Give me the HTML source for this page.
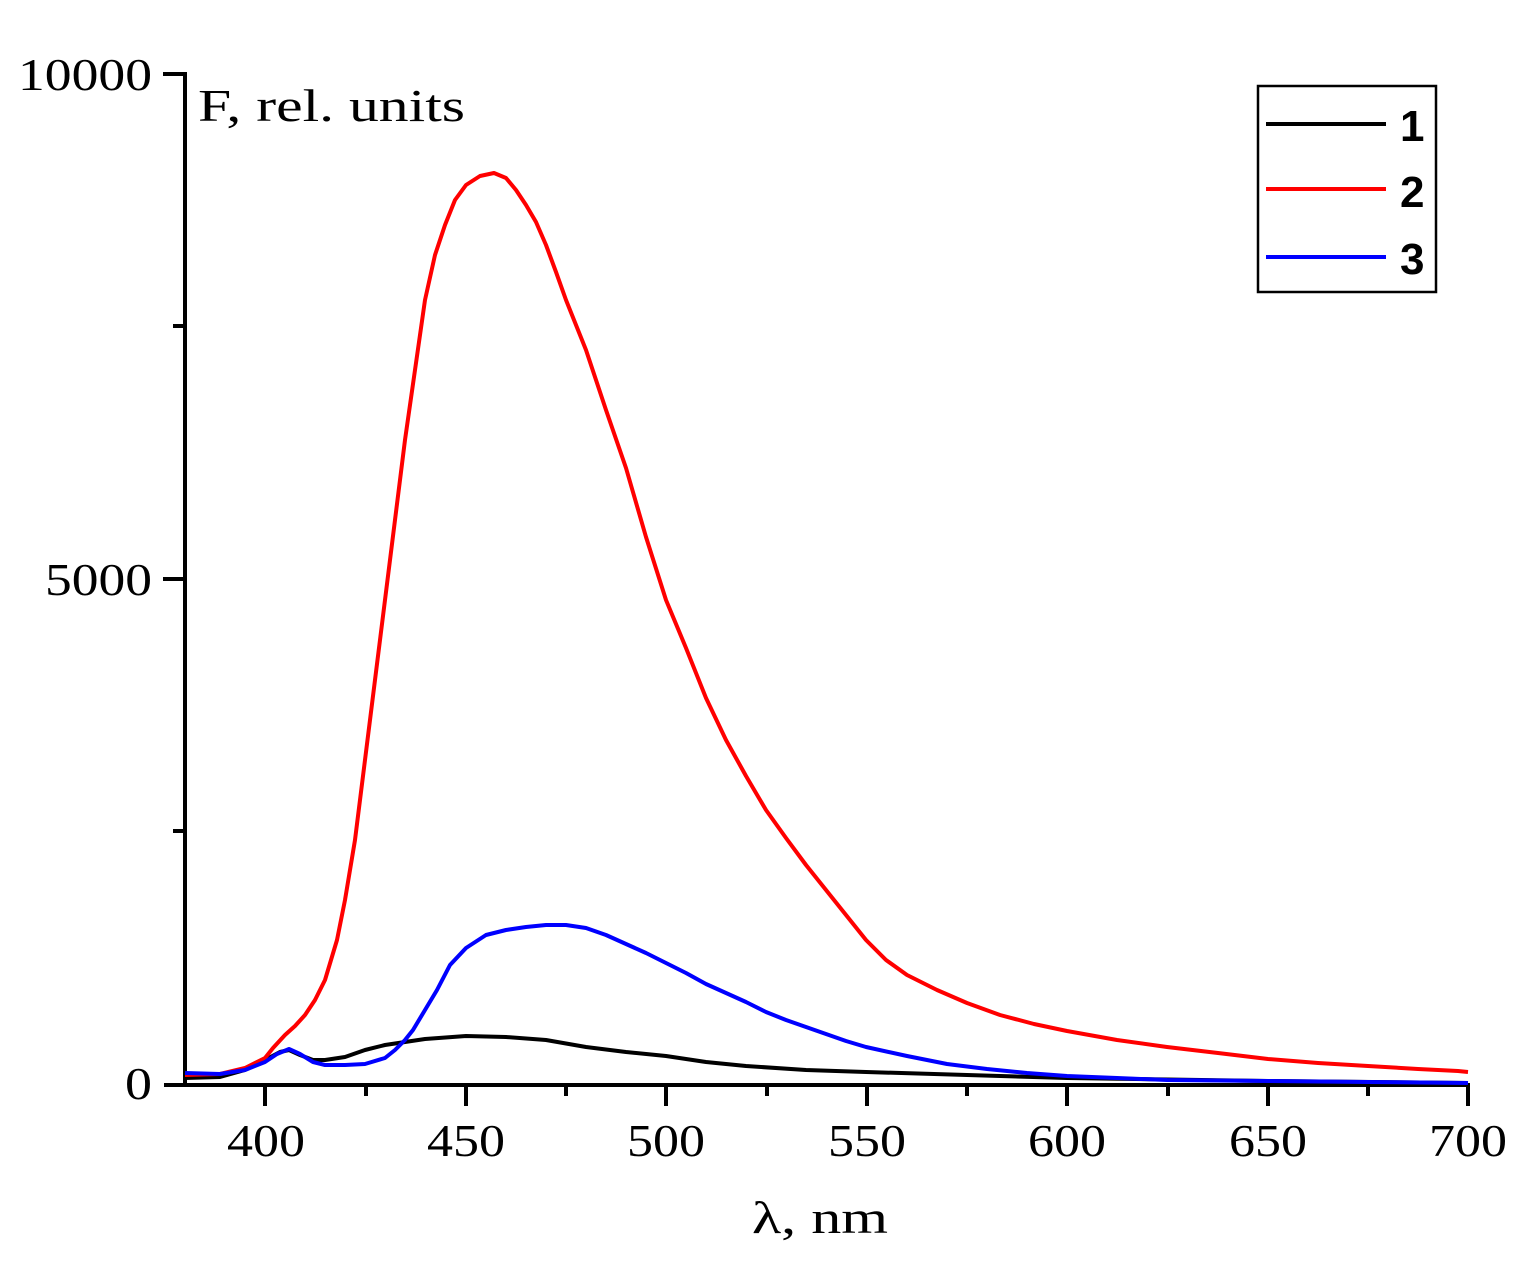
<!DOCTYPE html>
<html><head><style>
html,body{margin:0;padding:0;background:#fff;}
svg{display:block;}
.t{font-family:"Liberation Serif",serif;font-size:46px;fill:#000;}
.l{font-family:"Liberation Sans",sans-serif;font-size:44px;font-weight:bold;fill:#000;}
</style></head><body>
<svg width="1534" height="1283" viewBox="0 0 1534 1283" xmlns="http://www.w3.org/2000/svg">
<g stroke="#000" stroke-width="4" fill="none">
<line x1="185" y1="72" x2="185" y2="1086"/>
<line x1="164" y1="1085" x2="1470" y2="1085"/>
<line x1="163" y1="74" x2="187" y2="74"/>
<line x1="163" y1="579" x2="187" y2="579"/>
<line x1="173" y1="326" x2="187" y2="326"/>
<line x1="173" y1="831" x2="187" y2="831"/>
<line x1="265" y1="1085" x2="265" y2="1106"/>
<line x1="466" y1="1085" x2="466" y2="1106"/>
<line x1="666" y1="1085" x2="666" y2="1106"/>
<line x1="867" y1="1085" x2="867" y2="1106"/>
<line x1="1067" y1="1085" x2="1067" y2="1106"/>
<line x1="1268" y1="1085" x2="1268" y2="1106"/>
<line x1="1468" y1="1085" x2="1468" y2="1106"/>
<line x1="366" y1="1085" x2="366" y2="1096"/>
<line x1="566" y1="1085" x2="566" y2="1096"/>
<line x1="767" y1="1085" x2="767" y2="1096"/>
<line x1="967" y1="1085" x2="967" y2="1096"/>
<line x1="1168" y1="1085" x2="1168" y2="1096"/>
<line x1="1368" y1="1085" x2="1368" y2="1096"/>
</g>
<text class="t" x="18" y="90" textLength="134" lengthAdjust="spacingAndGlyphs">10000</text>
<text class="t" x="45" y="595" textLength="107" lengthAdjust="spacingAndGlyphs">5000</text>
<text class="t" x="125" y="1099" textLength="27" lengthAdjust="spacingAndGlyphs">0</text>
<text class="t" x="227" y="1156" textLength="78" lengthAdjust="spacingAndGlyphs">400</text>
<text class="t" x="427" y="1156" textLength="78" lengthAdjust="spacingAndGlyphs">450</text>
<text class="t" x="627" y="1156" textLength="78" lengthAdjust="spacingAndGlyphs">500</text>
<text class="t" x="828" y="1156" textLength="78" lengthAdjust="spacingAndGlyphs">550</text>
<text class="t" x="1028" y="1156" textLength="78" lengthAdjust="spacingAndGlyphs">600</text>
<text class="t" x="1229" y="1156" textLength="78" lengthAdjust="spacingAndGlyphs">650</text>
<text class="t" x="1429" y="1156" textLength="78" lengthAdjust="spacingAndGlyphs">700</text>
<text class="t" x="752" y="1233" textLength="136" lengthAdjust="spacingAndGlyphs">λ, nm</text>
<text class="t" x="198" y="121" textLength="267" lengthAdjust="spacingAndGlyphs">F, rel. units</text>
<g fill="none" stroke-width="4" stroke-linejoin="round">
<polyline stroke="#000" points="185,1078 220,1077 245,1070 265,1060 280,1052 289,1050 300,1055 313,1060 325,1060 345,1057 365,1050 385,1045 425,1039 466,1036 506,1037 546,1040 586,1047 626,1052 666,1056 706,1062 746,1066 806,1070 866,1072 967,1075 1067,1078 1268,1081 1468,1083"/>
<polyline stroke="#f00" points="185,1075 220,1074 245,1068 265,1058 273,1048 285,1035 295,1026 305,1015 315,1000 325,980 337,940 345,900 355,840 365,760 375,680 385,600 395,520 405,440 415,370 425,300 435,255 445,225 455,200 466,185 480,176 494,173 506,178 516,190 526,205 536,222 546,245 556,272 566,300 576,325 586,350 606,410 626,468 646,537 666,600 686,648 706,698 726,740 746,776 766,810 786,838 806,865 826,890 846,915 866,940 886,960 907,975 937,990 967,1003 1000,1015 1034,1024 1067,1031 1117,1040 1167,1047 1218,1053 1268,1059 1318,1063 1368,1066 1418,1069 1458,1071 1468,1072"/>
<polyline stroke="#00f" points="185,1073 220,1074 245,1070 265,1062 277,1054 289,1049 300,1054 313,1062 325,1065 345,1065 365,1064 385,1058 395,1050 405,1040 413,1030 425,1010 437,990 450,965 466,948 486,935 506,930 526,927 546,925 566,925 586,928 606,935 626,944 646,953 666,963 686,973 706,984 726,993 746,1002 766,1012 786,1020 806,1027 826,1034 846,1041 866,1047 907,1056 947,1064 987,1069 1027,1073 1067,1076 1117,1078 1167,1080 1268,1081 1368,1082 1468,1083"/>
</g>
<rect x="1258" y="86" width="178" height="206" fill="none" stroke="#000" stroke-width="2.5"/>
<line x1="1266" y1="124" x2="1386" y2="124" stroke="#000" stroke-width="4"/>
<line x1="1266" y1="189" x2="1386" y2="189" stroke="#f00" stroke-width="4"/>
<line x1="1266" y1="257" x2="1386" y2="257" stroke="#00f" stroke-width="4"/>
<text class="l" x="1400" y="141">1</text>
<text class="l" x="1400" y="207">2</text>
<text class="l" x="1400" y="274">3</text>
</svg>
</body></html>
